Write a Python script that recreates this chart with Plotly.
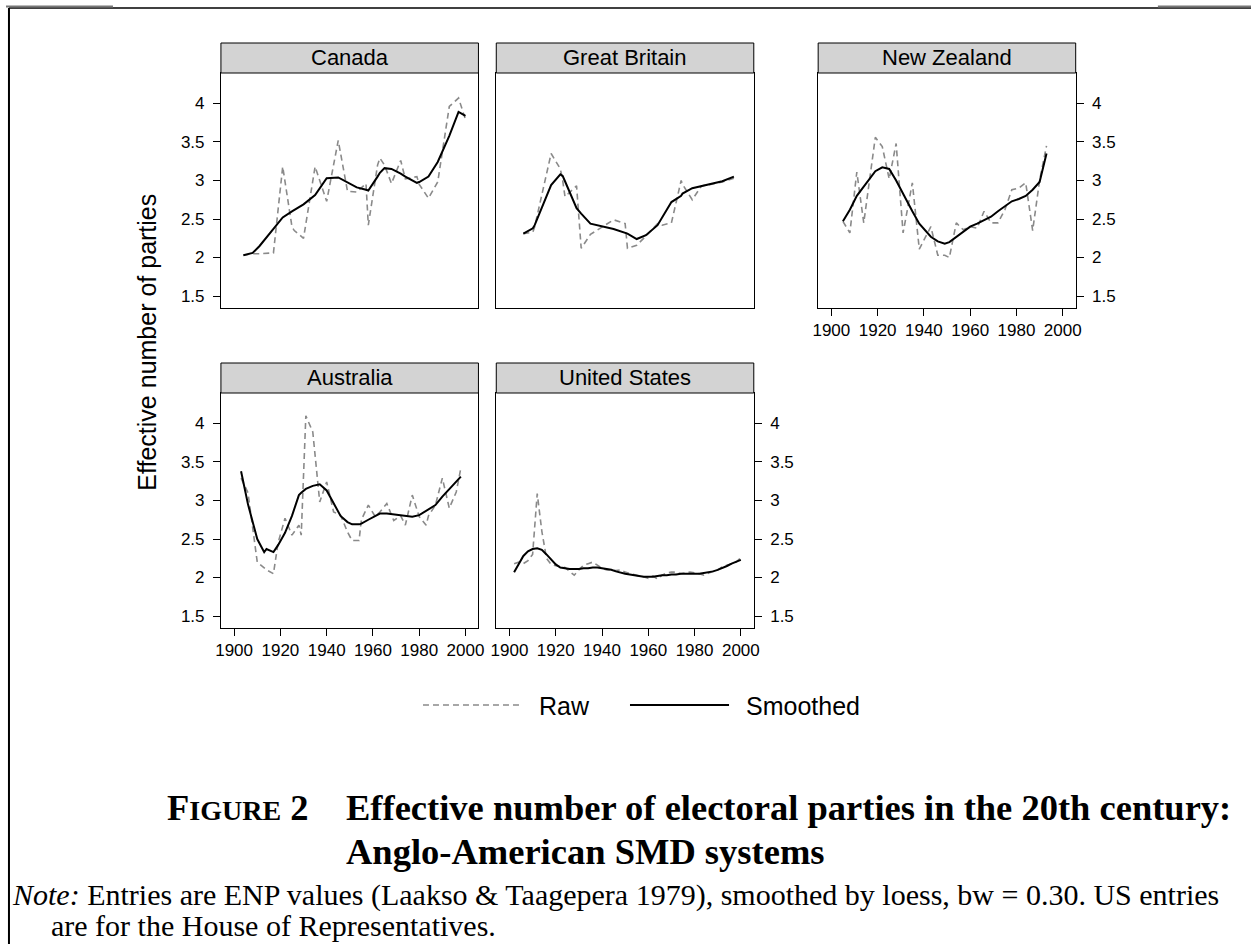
import plotly.graph_objects as go

# ---------------- data ----------------
years_ca = [1904, 1908, 1911, 1917, 1921, 1925, 1926, 1930, 1935, 1940, 1945, 1949, 1953, 1957,
            1958, 1962, 1963, 1965, 1968, 1972, 1974, 1979, 1980, 1984, 1988, 1993, 1997, 2000]
raw_ca = [2.03, 2.05, 2.05, 2.06, 3.18, 2.40, 2.35, 2.25, 3.18, 2.73, 3.52, 2.86, 2.85, 2.96,
          2.42, 3.20, 3.29, 3.20, 2.96, 3.26, 3.02, 3.05, 2.95, 2.77, 2.98, 3.96, 4.07, 3.79]
smooth_ca = [2.03, 2.06, 2.15, 2.38, 2.52, 2.60, 2.62, 2.69, 2.81, 3.03, 3.04, 2.97, 2.91, 2.88,
             2.87, 3.05, 3.10, 3.16, 3.15, 3.09, 3.05, 2.97, 2.98, 3.05, 3.24, 3.58, 3.89, 3.84]

years_gb = [1906, 1910.1, 1910.9, 1918, 1922, 1923, 1924, 1929, 1931, 1935, 1945, 1950, 1951,
            1955, 1959, 1964, 1966, 1970, 1974.2, 1974.8, 1979, 1983, 1987, 1992, 1997]
raw_gb = [2.31, 2.33, 2.40, 3.35, 3.15, 3.00, 2.79, 2.93, 2.12, 2.30, 2.49, 2.44, 2.12,
          2.16, 2.28, 2.44, 2.42, 2.45, 3.00, 2.95, 2.75, 2.93, 2.95, 2.98, 3.03]
smooth_gb = [2.31, 2.38, 2.42, 2.94, 3.08, 3.06, 2.99, 2.64, 2.57, 2.44, 2.37, 2.32, 2.31,
             2.24, 2.29, 2.42, 2.52, 2.72, 2.80, 2.83, 2.90, 2.93, 2.96, 2.99, 3.05]

years_nz = [1905, 1908, 1911, 1914, 1919, 1922, 1925, 1928, 1931, 1935, 1938, 1943, 1946, 1949,
            1951, 1954, 1957, 1960, 1963, 1966, 1969, 1972, 1975, 1978, 1981, 1984, 1987, 1990, 1993]
raw_nz = [2.47, 2.32, 3.11, 2.45, 3.56, 3.44, 3.02, 3.48, 2.32, 2.97, 2.11, 2.40, 2.03, 2.03,
          2.00, 2.45, 2.36, 2.40, 2.38, 2.60, 2.45, 2.45, 2.62, 2.88, 2.90, 2.97, 2.35, 3.00, 3.45]
smooth_nz = [2.47, 2.62, 2.80, 2.92, 3.12, 3.17, 3.15, 3.00, 2.82, 2.60, 2.44, 2.27, 2.21, 2.18,
             2.20, 2.27, 2.34, 2.40, 2.44, 2.48, 2.53, 2.60, 2.67, 2.73, 2.76, 2.80, 2.88, 2.98, 3.35]

years_au = [1903, 1906, 1910, 1913, 1914, 1917, 1919, 1922, 1925, 1928, 1929, 1931, 1934, 1937,
            1940, 1943, 1946, 1949, 1951, 1954, 1955, 1958, 1961, 1963, 1966, 1969, 1972, 1974,
            1975, 1977, 1980, 1983, 1984, 1987, 1990, 1993, 1996, 1998]
raw_au = [3.29, 3.10, 2.20, 2.12, 2.10, 2.05, 2.45, 2.77, 2.55, 2.68, 2.55, 4.10, 3.89, 2.98,
          3.24, 2.85, 2.81, 2.59, 2.48, 2.48, 2.75, 2.94, 2.79, 2.85, 2.96, 2.74, 2.80, 2.68,
          2.80, 3.07, 2.79, 2.68, 2.80, 2.94, 3.29, 2.90, 3.11, 3.42]
smooth_au = [3.38, 2.95, 2.50, 2.33, 2.37, 2.33, 2.42, 2.58, 2.80, 3.07, 3.10, 3.15, 3.19, 3.21,
             3.13, 2.96, 2.80, 2.72, 2.69, 2.69, 2.70, 2.75, 2.80, 2.83, 2.83, 2.82, 2.81, 2.80,
             2.80, 2.79, 2.81, 2.87, 2.89, 2.94, 3.05, 3.15, 3.25, 3.31]

years_us = list(range(1902, 2001, 2))
raw_us = [2.18, 2.20, 2.18, 2.22, 2.30, 3.09, 2.60, 2.25, 2.17, 2.15, 2.14, 2.13, 2.08, 2.03,
          2.10, 2.16, 2.18, 2.20, 2.16, 2.12, 2.10, 2.10, 2.09, 2.10, 2.07, 2.05, 2.03, 2.02,
          2.01, 1.99, 2.02, 1.98, 2.03, 2.06, 2.07, 2.07, 2.05, 2.06, 2.07, 2.06, 2.05, 2.03,
          2.06, 2.08, 2.10, 2.14, 2.16, 2.18, 2.20, 2.26]
smooth_us = [2.07, 2.18, 2.28, 2.34, 2.37, 2.38, 2.36, 2.30, 2.23, 2.17, 2.13, 2.12, 2.11, 2.11,
             2.11, 2.12, 2.12, 2.13, 2.13, 2.12, 2.11, 2.10, 2.08, 2.06, 2.05, 2.04, 2.03, 2.02,
             2.01, 2.01, 2.01, 2.02, 2.03, 2.03, 2.04, 2.04, 2.05, 2.05, 2.05, 2.05, 2.05, 2.06,
             2.07, 2.08, 2.10, 2.12, 2.15, 2.18, 2.20, 2.23]

countries = ["Canada", "Great Britain", "New Zealand", "Australia", "United States"]
x_ticks = [1900, 1920, 1940, 1960, 1980, 2000]
y_ticks = [1.5, 2, 2.5, 3, 3.5, 4]
y_tick_labels = ["1.5", "2", "2.5", "3", "3.5", "4"]
legend_labels = ["Raw", "Smoothed"]
y_title = "Effective number of parties"

# ---------------- layout helpers ----------------
W, H = 1257, 944
def fx(p): return p / W
def fy(p): return 1 - p / H

SANS = "Liberation Sans, Arial, Helvetica, sans-serif"
SERIF = "Liberation Serif, Times New Roman, serif"

# panel boxes: (x0, x1, top, bottom), y-tick side, show x ticks
panels = [
    (217, 477, 73, 308, "left", False),
    (495, 755, 73, 308, None, False),
    (820, 1080, 73, 308, "right", True),
    (217, 477, 393, 628, "left", True),
    (495, 755, 393, 628, "right", True),
]
series = [
    (years_ca, raw_ca, smooth_ca),
    (years_gb, raw_gb, smooth_gb),
    (years_nz, raw_nz, smooth_nz),
    (years_au, raw_au, smooth_au),
    (years_us, raw_us, smooth_us),
]

fig = go.Figure()
shapes = []
annotations = []
layout = {}

for i, (name, (x0, x1, top, bot, yside, showx), (yrs, raw, sm)) in enumerate(zip(countries, panels, series)):
    k = "" if i == 0 else str(i + 1)
    xa, ya = "x" + k, "y" + k
    layout["xaxis" + k] = dict(
        domain=[fx(x0), fx(x1)], anchor=ya, range=[1894.3, 2005.6],
        showline=True, mirror=True, linecolor="black", linewidth=1,
        showgrid=False, zeroline=False,
        tickvals=x_ticks, ticktext=[str(t) for t in x_ticks],
        ticks="outside" if showx else "", ticklen=7, tickcolor="black",
        showticklabels=showx, tickfont=dict(family=SANS, size=17, color="black"),
    )
    layout["yaxis" + k] = dict(
        domain=[fy(bot), fy(top)], anchor=xa, range=[1.345, 4.395],
        showline=True, mirror=True, linecolor="black", linewidth=1,
        showgrid=False, zeroline=False,
        tickvals=y_ticks, ticktext=y_tick_labels,
        ticks="outside" if yside else "", ticklen=7, tickcolor="black",
        side=yside if yside else "left", ticklabelstandoff=5,
        showticklabels=bool(yside), tickfont=dict(family=SANS, size=17, color="black"),
    )
    fig.add_trace(go.Scatter(x=yrs, y=raw, mode="lines", xaxis=xa, yaxis=ya,
                             line=dict(color="#8a8a8a", width=1.6, dash="6px,4px"),
                             showlegend=False, hoverinfo="skip"))
    fig.add_trace(go.Scatter(x=yrs, y=sm, mode="lines", xaxis=xa, yaxis=ya,
                             line=dict(color="black", width=2),
                             showlegend=False, hoverinfo="skip"))
    # strip
    shapes.append(dict(type="rect", xref="paper", yref="paper",
                       x0=fx(x0), x1=fx(x1), y0=fy(top), y1=fy(top - 30),
                       fillcolor="#d3d3d3", line=dict(color="black", width=1), layer="above"))
    annotations.append(dict(text=name, xref="paper", yref="paper",
                            x=fx((x0 + x1) / 2), y=fy(top - 15), xanchor="center", yanchor="middle",
                            showarrow=False, font=dict(family=SANS, size=22, color="black")))

# y-axis title
annotations.append(dict(text=y_title, xref="paper", yref="paper", x=fx(142), y=fy(342),
                        textangle=-90, xanchor="center", yanchor="middle", showarrow=False,
                        font=dict(family=SANS, size=25, color="black")))

# legend
shapes.append(dict(type="line", xref="paper", yref="paper", x0=fx(421), x1=fx(520),
                   y0=fy(705), y1=fy(705), line=dict(color="#8a8a8a", width=1.6, dash="6px,4px")))
shapes.append(dict(type="line", xref="paper", yref="paper", x0=fx(630), x1=fx(730),
                   y0=fy(705), y1=fy(705), line=dict(color="black", width=2)))
annotations.append(dict(text=legend_labels[0], xref="paper", yref="paper", x=fx(536), y=fy(706),
                        xanchor="left", yanchor="middle", showarrow=False,
                        font=dict(family=SANS, size=25, color="black")))
annotations.append(dict(text=legend_labels[1], xref="paper", yref="paper", x=fx(745), y=fy(706),
                        xanchor="left", yanchor="middle", showarrow=False,
                        font=dict(family=SANS, size=25, color="black")))

# caption
annotations.append(dict(text="<b>F<span style='font-size:28px'>IGURE</span> 2</b>",
                        xref="paper", yref="paper", x=fx(161), y=fy(807),
                        xanchor="left", yanchor="middle", showarrow=False,
                        font=dict(family=SERIF, size=36.5, color="black")))
annotations.append(dict(text="<b>Effective number of electoral parties in the 20th century:</b>",
                        xref="paper", yref="paper", x=fx(341), y=fy(807),
                        xanchor="left", yanchor="middle", showarrow=False,
                        font=dict(family=SERIF, size=36.5, color="black")))
annotations.append(dict(text="<b>Anglo-American SMD systems</b>",
                        xref="paper", yref="paper", x=fx(341), y=fy(851),
                        xanchor="left", yanchor="middle", showarrow=False,
                        font=dict(family=SERIF, size=36.5, color="black")))
annotations.append(dict(text="<i>Note:</i> Entries are ENP values (Laakso &amp; Taagepera 1979), smoothed by loess, bw = 0.30. US entries",
                        xref="paper", yref="paper", x=fx(4), y=fy(895),
                        xanchor="left", yanchor="middle", showarrow=False,
                        font=dict(family=SERIF, size=30, color="black")))
annotations.append(dict(text="are for the House of Representatives.",
                        xref="paper", yref="paper", x=fx(43), y=fy(925),
                        xanchor="left", yanchor="middle", showarrow=False,
                        font=dict(family=SERIF, size=30, color="black")))

# outer frame
shapes.append(dict(type="line", xref="paper", yref="paper", x0=fx(3), x1=1, y0=fy(8), y1=fy(8),
                   line=dict(color="black", width=1.5)))
shapes.append(dict(type="line", xref="paper", yref="paper", x0=fx(3), x1=fx(3), y0=fy(8), y1=0,
                   line=dict(color="black", width=2)))
shapes.append(dict(type="line", xref="paper", yref="paper", x0=0, x1=fx(108), y0=fy(6.5), y1=fy(6.5),
                   line=dict(color="#777777", width=2)))
shapes.append(dict(type="line", xref="paper", yref="paper", x0=fx(1163), x1=1, y0=fy(6.5), y1=fy(6.5),
                   line=dict(color="#777777", width=2)))

fig.update_layout(
    width=W, height=H, margin=dict(l=0, r=0, t=0, b=0),
    paper_bgcolor="white", plot_bgcolor="white",
    showlegend=False, shapes=shapes, annotations=annotations, **layout,
)

fig.write_html("out.html")
